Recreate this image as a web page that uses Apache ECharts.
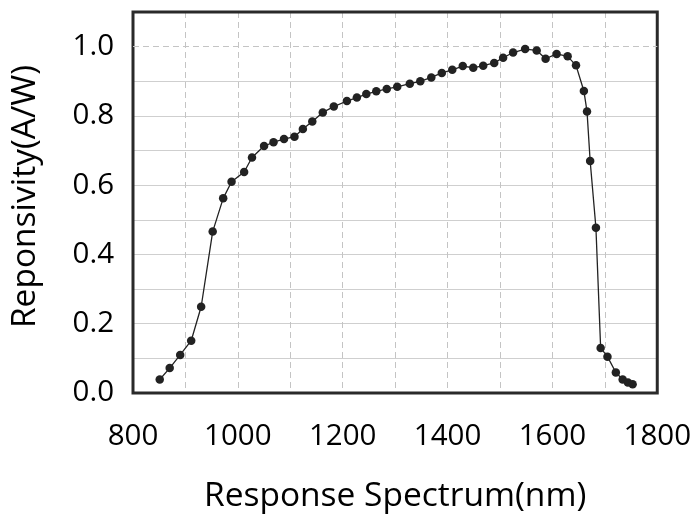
<!DOCTYPE html>
<html>
<head>
<meta charset="utf-8">
<script src="https://cdn.jsdelivr.net/npm/echarts@6/dist/echarts.min.js"></script>
<style>html,body{margin:0;padding:0;background:#fff}#c{width:694px;height:518px}</style>
</head>
<body>
<div id="c"></div>
<script>
var wavelength = [851, 870, 890, 911, 930, 952, 972, 988, 1012, 1027, 1050, 1068, 1088, 1108, 1124, 1142, 1162, 1183, 1208, 1227, 1245, 1264, 1284, 1304, 1328, 1348, 1369, 1389, 1409, 1429, 1449, 1468, 1489, 1506, 1525, 1548, 1570, 1587, 1608, 1629, 1645, 1660, 1666, 1672, 1683, 1692, 1705, 1721, 1734, 1744, 1753];
var responsivity = [0.039, 0.072, 0.110, 0.151, 0.249, 0.466, 0.562, 0.610, 0.638, 0.680, 0.713, 0.724, 0.733, 0.740, 0.762, 0.784, 0.810, 0.827, 0.843, 0.853, 0.863, 0.871, 0.878, 0.884, 0.893, 0.900, 0.911, 0.924, 0.933, 0.944, 0.939, 0.945, 0.953, 0.968, 0.983, 0.993, 0.989, 0.965, 0.979, 0.972, 0.946, 0.872, 0.813, 0.670, 0.477, 0.130, 0.105, 0.059, 0.039, 0.030, 0.025];
var xTickLabels = ['800', '1000', '1200', '1400', '1600', '1800'];
var yTickLabels = ['0.0', '0.2', '0.4', '0.6', '0.8', '1.0'];
var xTitle = 'Response Spectrum(nm)';
var yTitle = 'Reponsivity(A/W)';

var points = wavelength.map(function (w, i) { return [w, responsivity[i]]; });
var FONT = 'Open Sans';
var hGridColors = [];
for (var k = 0; k < 12; k++) hGridColors.push(k === 10 ? 'rgba(0,0,0,0)' : '#cfcfcf');

var chart = echarts.init(document.getElementById('c'), null, { renderer: 'canvas' });
chart.setOption({
  animation: false,
  backgroundColor: '#fff',
  grid: { left: 133, right: 34, top: 12, bottom: 120, show: true, borderColor: '#2a2a2a', borderWidth: 3, z: 5 },
  xAxis: {
    type: 'value', min: 800, max: 1800, interval: 100,
    name: xTitle, nameLocation: 'middle', nameGap: 86,
    nameTextStyle: { fontFamily: FONT, fontSize: 33.5, color: '#000' },
    axisLine: { show: false }, axisTick: { show: false },
    axisLabel: {
      margin: 29, fontFamily: FONT, fontSize: 29.5, color: '#000',
      formatter: function (v) { var s = String(v); return xTickLabels.indexOf(s) >= 0 ? s : ''; }
    },
    splitLine: { show: true, lineStyle: { color: '#c4c4c4', type: [6, 4], width: 1 } }
  },
  yAxis: {
    type: 'value', min: 0, max: 1.1, interval: 0.1,
    name: yTitle, nameLocation: 'middle', nameGap: 91,
    nameTextStyle: { fontFamily: FONT, fontSize: 33.5, color: '#000', padding: [0, 0, 0, 12] },
    axisLine: { show: false }, axisTick: { show: false },
    axisLabel: {
      margin: 19, fontFamily: FONT, fontSize: 29.5, color: '#000',
      formatter: function (v) { var s = v.toFixed(1); return yTickLabels.indexOf(s) >= 0 ? s : ''; }
    },
    splitLine: { show: true, lineStyle: { color: hGridColors, width: 1.2 } }
  },
  series: [{
    type: 'line',
    data: points,
    symbol: 'circle',
    symbolSize: 8.5,
    lineStyle: { color: '#222', width: 1.3 },
    itemStyle: { color: '#222' },
    z: 10,
    markLine: {
      silent: true, symbol: 'none', label: { show: false },
      lineStyle: { color: '#c4c4c4', type: [6, 4], width: 1 },
      data: [{ yAxis: 1.0 }]
    }
  }]
});
</script>
</body>
</html>
